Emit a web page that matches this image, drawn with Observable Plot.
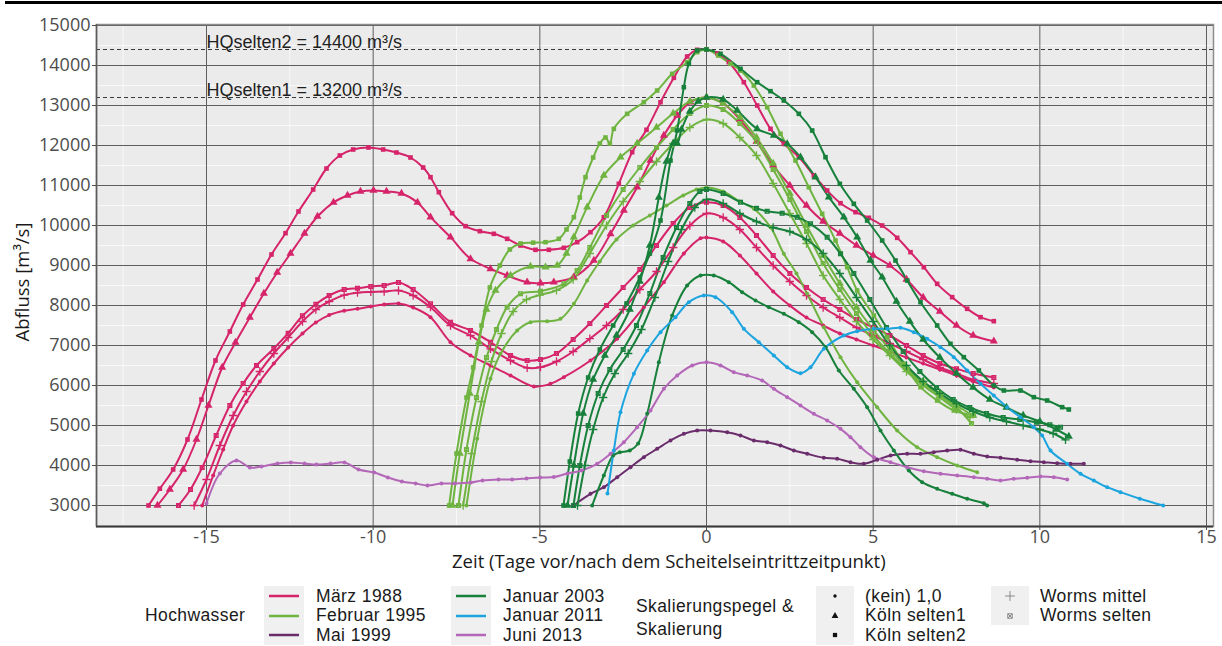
<!DOCTYPE html>
<html><head><meta charset="utf-8">
<script src="https://cdn.jsdelivr.net/npm/d3@7"></script>
<script src="https://cdn.jsdelivr.net/npm/@observablehq/plot@0.6"></script>
<style>
body{margin:0;background:#fff;font-family:"Open Sans",sans-serif;}
#wrap{position:relative;width:1222px;height:646px;overflow:hidden;}
#topbar{position:absolute;left:5px;top:1px;width:1217px;height:3px;background:#000;}
#chart{position:absolute;left:0;top:0;}
.t{position:absolute;white-space:nowrap;color:#1a1a1a;font-size:18.5px;line-height:20px;}
.lg{position:absolute;white-space:nowrap;color:#1a1a1a;font-family:"Liberation Sans",sans-serif;font-size:17.5px;line-height:19.5px;letter-spacing:0.4px;}
.box{position:absolute;background:#f0f0f0;}
</style></head><body>
<div id="wrap"><div id="chart"></div><div id="topbar"></div></div>
<script>
// ---------- data (t = Tage relativ zum Scheitel, v = Abfluss m³/s) ----------
const events = ["März 1988","Februar 1995","Mai 1999","Januar 2003","Januar 2011","Juni 2013"];
const eventColors = ["#D6246A","#6FB440","#6B2C6C","#17803B","#1CA4DF","#B467B8"];
const scalings = ["(kein) 1,0","Köln selten1","Köln selten2","Worms mittel","Worms selten"];
const scalingSymbols = ["circle","triangle","square","plus","square2"];
const xTicks = [-15,-10,-5,0,5,10,15];
const yTicks = [3000,4000,5000,6000,7000,8000,9000,10000,11000,12000,13000,14000,15000];
const xMinor = [-17.5,-12.5,-7.5,-2.5,2.5,7.5,12.5];
const yMinor = [2500,3500,4500,5500,6500,7500,8500,9500,10500,11500,12500,13500,14500];
const thresholdValues = [14400,13200];
const thresholdLabels = ["HQselten2 = 14400 m³/s","HQselten1 = 13200 m³/s"];

const m1988_koeln2 = [[-16.74,3000],[-16.4,3420],[-16,3900],[-15.57,4650],[-15.15,5650],[-14.73,6625],[-14.3,7350],[-13.9,8025],[-13.47,8650],[-13.05,9275],[-12.63,9808],[-12.24,10350],[-11.8,10900],[-11.4,11425],[-11,11750],[-10.6,11900],[-10.14,11950],[-9.7,11900],[-9.3,11825],[-8.88,11700],[-8.5,11450],[-8.28,11208],[-8.03,10833],[-7.63,10308],[-7.23,9983],[-6.8,9858],[-6.38,9792],[-5.98,9667],[-5.58,9500],[-5.13,9392],[-4.73,9392],[-4.28,9442],[-3.88,9583],[-3.48,9833],[-3.08,10208],[-2.63,11042],[-2.23,11833],[-1.8,12392],[-1.38,13083],[-0.98,13692],[-0.58,14225],[-0.28,14392],[0,14400],[0.33,14300],[0.67,14083],[1.12,13583],[1.52,13000],[1.92,12417],[2.32,12042],[2.77,11708],[3.22,11250],[3.62,10875],[4.02,10558],[4.47,10333],[4.87,10192],[5.27,10000],[5.72,9692],[6.12,9333],[6.52,8958],[6.92,8542],[7.37,8208],[7.82,7917],[8.22,7708],[8.62,7608]];
const m1988_koeln1 = [[-16.47,3000],[-16.1,3400],[-15.7,3900],[-15.3,4650],[-14.94,5500],[-14.53,6450],[-14.13,7075],[-13.7,7700],[-13.28,8300],[-12.88,8825],[-12.48,9300],[-12.06,9800],[-11.67,10225],[-11.19,10575],[-10.77,10750],[-10.38,10850],[-9.99,10875],[-9.6,10850],[-9.15,10800],[-8.67,10575],[-8.28,10208],[-7.68,9708],[-7.08,9167],[-6.48,8917],[-5.98,8750],[-5.38,8583],[-4.98,8558],[-4.58,8583],[-3.98,8708],[-3.38,9125],[-2.88,9792],[-2.48,10375],[-2.08,10958],[-1.68,11625],[-1.28,12250],[-0.88,12750],[-0.48,13083],[0,13200],[0.5,13050],[1,12650],[1.5,12100],[2,11500],[2.5,11000],[3,10500],[3.5,10100],[4,9800],[4.5,9500],[5,9250],[5.5,9000],[6,8650],[6.5,8200],[7,7850],[7.5,7500],[8,7250],[8.62,7108]];
const m1988_wormsS = [[-15.84,3000],[-15.48,3400],[-15.13,3950],[-14.71,4750],[-14.3,5500],[-13.9,6050],[-13.5,6500],[-12.98,6925],[-12.55,7308],[-12.12,7742],[-11.72,8033],[-11.32,8250],[-10.87,8400],[-10.47,8433],[-10.07,8475],[-9.67,8500],[-9.24,8575],[-8.8,8400],[-8.28,8042],[-7.68,7583],[-7.08,7375],[-6.48,7083],[-5.88,6750],[-5.38,6625],[-4.98,6650],[-4.5,6800],[-4,7150],[-3.5,7550],[-3,8000],[-2.5,8450],[-2,8900],[-1.5,9500],[-1,10050],[-0.5,10450],[0,10580],[0.5,10500],[1,10200],[1.5,9750],[2,9250],[2.5,8800],[3,8450],[3.5,8150],[4,7900],[4.5,7650],[5,7450],[5.5,7250],[6,7000],[6.5,6750],[7,6550],[7.5,6420],[8,6300],[8.62,6200]];
const m1988_wormsM = [[-15.37,3000],[-15,3650],[-14.6,4500],[-14.2,5250],[-13.8,5850],[-13.4,6350],[-12.98,6800],[-12.55,7200],[-12.12,7600],[-11.72,7900],[-11.32,8100],[-10.87,8260],[-10.47,8320],[-10.07,8340],[-9.67,8350],[-9.24,8375],[-8.8,8250],[-8.28,7958],[-7.68,7500],[-7.08,7250],[-6.48,6917],[-5.88,6625],[-5.38,6442],[-4.98,6458],[-4.5,6600],[-4,6850],[-3.5,7170],[-3,7500],[-2.5,7900],[-2,8400],[-1.5,8850],[-1,9450],[-0.5,10000],[0,10300],[0.5,10200],[1,9900],[1.5,9450],[2,9000],[2.5,8600],[3,8250],[3.5,7950],[4,7700],[4.5,7450],[5,7250],[5.5,7050],[6,6850],[6.5,6650],[7,6450],[7.5,6300],[8,6150],[8.62,6050]];
const m1988_kein = [[-15.13,3000],[-14.8,3750],[-14.5,4400],[-14.2,5000],[-13.8,5600],[-13.4,6100],[-12.98,6550],[-12.55,6950],[-12.12,7300],[-11.72,7575],[-11.32,7760],[-10.87,7867],[-10.47,7917],[-10.07,7975],[-9.67,8025],[-9.24,8050],[-8.8,7950],[-8.28,7708],[-7.68,7083],[-7.08,6750],[-6.48,6500],[-5.88,6250],[-5.18,5975],[-4.68,6042],[-4.28,6208],[-3.48,6625],[-2.68,7167],[-1.88,7958],[-1.28,8583],[-0.68,9300],[-0.18,9680],[0,9700],[0.5,9600],[1,9250],[1.5,8800],[2,8350],[2.5,8000],[3,7700],[3.5,7500],[4,7300],[4.5,7150],[5,7000],[5.5,6850],[6,6700],[6.5,6550],[7,6400],[7.5,6250],[8,6100],[8.62,5950]];

const f1995_koeln2 = [[-7.72,3000],[-7.5,4300],[-7.2,5700],[-7,6450],[-6.75,7500],[-6.5,8450],[-6.2,9000],[-5.9,9400],[-5.58,9550],[-5.2,9570],[-4.83,9583],[-4.43,9667],[-4.2,9900],[-3.98,10208],[-3.8,10700],[-3.63,11208],[-3.4,11700],[-3.2,12050],[-3.03,12200],[-2.9,12050],[-2.78,12417],[-2.38,12792],[-1.88,13083],[-1.48,13375],[-1.03,13792],[-0.58,14083],[-0.28,14333],[0,14400],[0.35,14250],[0.72,14042],[1.02,13875],[1.42,13500],[1.82,12958],[2.22,12292],[2.67,11625],[3.07,10958],[3.47,10292],[3.87,9625],[4.22,8958],[4.52,8375],[5.02,7750],[5.42,7208],[5.92,6542],[6.42,5958],[6.92,5625],[7.42,5375],[8.02,5250]];
const f1995_koeln1 = [[-7.62,3000],[-7.4,4300],[-7.1,5800],[-6.83,7083],[-6.6,7900],[-6.33,8375],[-5.88,8750],[-5.28,8975],[-4.83,8958],[-4.48,9000],[-4.2,9300],[-3.98,9708],[-3.58,10458],[-3.08,11250],[-2.58,11708],[-2.08,12050],[-1.5,12450],[-1,12800],[-0.5,13100],[0,13200],[0.5,13050],[1,12700],[1.5,12200],[2,11550],[2.5,10800],[3,10000],[3.5,9250],[4,8550],[4.5,7950],[5,7400],[5.5,6900],[6,6450],[6.5,6100],[7,5800],[7.5,5500],[8,5250]];
const f1995_wormsS = [[-7.44,3000],[-7.2,4400],[-6.9,5700],[-6.6,6700],[-6.3,7400],[-5.98,7958],[-5.58,8292],[-4.98,8358],[-4.28,8542],[-3.88,8875],[-3.5,9450],[-3,10250],[-2.5,10900],[-2,11450],[-1.5,11950],[-1,12400],[-0.5,12800],[0,13000],[0.5,12900],[1,12550],[1.5,12100],[2,11400],[2.5,10650],[3,9850],[3.5,9050],[4,8400],[4.5,7800],[5,7250],[5.5,6800],[6,6400],[6.5,6050],[7,5750],[7.5,5450],[7.95,5050]];
const f1995_wormsM = [[-7.3,3000],[-7.05,4300],[-6.75,5600],[-6.45,6600],[-6.15,7300],[-5.8,7850],[-5.4,8150],[-5,8260],[-4.5,8380],[-4,8650],[-3.5,9300],[-3,10000],[-2.5,10600],[-2,11100],[-1.5,11600],[-1,12050],[-0.5,12450],[0,12650],[0.5,12550],[1,12200],[1.5,11750],[2,11050],[2.5,10300],[3,9550],[3.5,8750],[4,8150],[4.5,7600],[5,7150],[5.5,6750],[6,6350],[6.5,6000],[7,5700],[7.5,5400],[7.9,5200]];
const f1995_kein = [[-7.2,3000],[-6.88,4667],[-6.48,6167],[-6.18,6792],[-5.68,7375],[-5.28,7583],[-4.78,7608],[-4.38,7667],[-3.98,8042],[-3.58,8625],[-3.2,9100],[-2.7,9650],[-2.2,10000],[-1.7,10250],[-1.2,10500],[-0.7,10750],[-0.3,10900],[0,10950],[0.5,10850],[1,10600],[1.42,10417],[1.92,9958],[2.32,9292],[2.7,8800],[3.02,8292],[3.52,7458],[4.02,6708],[4.52,6083],[5.12,5458],[5.72,4875],[6.32,4458],[6.92,4208],[7.52,4000],[8.12,3833]];

const m1999_kein = [[-3.99,3000],[-3.48,3292],[-3.08,3458],[-2.68,3708],[-2.28,3958],[-1.88,4208],[-1.48,4417],[-1.08,4625],[-0.68,4792],[-0.28,4875],[0.12,4875],[0.62,4833],[1.02,4750],[1.42,4625],[1.82,4583],[2.22,4500],[2.62,4375],[3.02,4292],[3.52,4192],[3.92,4167],[4.32,4083],[4.72,4042],[5.12,4142],[5.52,4250],[6.02,4292],[6.42,4292],[6.82,4333],[7.22,4375],[7.62,4392],[8.02,4292],[8.42,4225],[8.82,4192],[9.32,4142],[9.72,4108],[10.12,4083],[10.52,4058],[10.92,4042],[11.32,4042]];

const j2003_koeln2 = [[-4.29,3000],[-4.1,4100],[-3.85,5300],[-3.55,6200],[-3.2,6900],[-2.8,7500],[-2.4,8050],[-2,8700],[-1.7,9300],[-1.38,10125],[-1.08,11625],[-0.88,12375],[-0.68,13458],[-0.53,14042],[-0.28,14375],[0,14400],[0.42,14292],[1.02,13917],[1.52,13583],[1.92,13358],[2.32,13125],[2.77,12792],[3.17,12375],[3.57,11708],[4,11042],[4.42,10542],[4.82,10125],[5.27,9625],[5.67,9125],[6.02,8625],[6.42,8083],[6.92,7500],[7.32,7042],[7.72,6708],[8.17,6375],[8.62,6000],[8.92,5875],[9.42,5875],[9.82,5708],[10.22,5625],[10.67,5458],[10.87,5400]];
const j2003_koeln1 = [[-4.17,3000],[-3.98,4000],[-3.7,5300],[-3.4,6150],[-3.05,6750],[-2.7,7250],[-2.3,7900],[-2,8600],[-1.7,9500],[-1.43,10700],[-1.2,11600],[-1,12050],[-0.88,12050],[-0.75,12400],[-0.5,12850],[-0.25,13100],[0,13200],[0.5,13150],[0.92,12875],[1.52,12417],[2.02,12250],[2.42,12042],[2.82,11708],[3.27,11208],[3.67,10708],[4.12,10208],[4.52,9708],[4.92,9125],[5.27,8708],[5.7,8100],[6.1,7600],[6.5,7150],[7,6700],[7.5,6300],[8,5950],[8.5,5650],[9,5450],[9.5,5250],[10,5100],[10.5,4900],[10.87,4725]];
const j2003_wormsS = [[-3.99,3000],[-3.8,4000],[-3.55,5000],[-3.25,5800],[-2.9,6400],[-2.5,6900],[-2.1,7500],[-1.7,8300],[-1.3,9200],[-0.9,9950],[-0.5,10550],[-0.2,10850],[0,10900],[0.5,10800],[1.02,10583],[1.5,10430],[1.82,10358],[2.27,10308],[2.72,10208],[3.12,10042],[3.62,9708],[4.02,9292],[4.42,8800],[4.9,8150],[5.4,7450],[5.9,6850],[6.4,6350],[6.9,5950],[7.4,5650],[7.9,5450],[8.4,5300],[8.9,5200],[9.4,5150],[9.9,5080],[10.3,5020],[10.62,4958]];
const j2003_wormsM = [[-3.87,3000],[-3.65,4000],[-3.4,4900],[-3.1,5700],[-2.75,6300],[-2.35,6800],[-1.95,7400],[-1.55,8200],[-1.15,9100],[-0.75,9900],[-0.35,10450],[0,10650],[0.5,10550],[1,10300],[1.5,10100],[2,9950],[2.5,9850],[3,9650],[3.5,9300],[4,8800],[4.5,8200],[5,7600],[5.5,7000],[6,6500],[6.5,6100],[7,5800],[7.5,5550],[8,5350],[8.5,5200],[9,5100],[9.5,5000],[10,4900],[10.4,4800],[10.77,4642]];
const j2003_kein = [[-3.43,3000],[-3.08,3750],[-2.8,4250],[-2.6,4330],[-2.3,4375],[-2.05,4550],[-1.78,5292],[-1.43,6583],[-1.03,7750],[-0.58,8500],[-0.18,8750],[0.22,8750],[0.67,8583],[1.07,8333],[1.47,8125],[1.87,7958],[2.32,7792],[2.77,7583],[3.17,7333],[3.57,6958],[3.97,6375],[4.42,5917],[4.82,5458],[5.22,4875],[5.62,4375],[6.07,3875],[6.47,3583],[6.92,3417],[7.37,3292],[7.82,3167],[8.32,3058],[8.42,3000]];

const j2011_kein = [[-2.97,3300],[-2.78,4375],[-2.58,5333],[-2.18,6292],[-1.78,6875],[-1.38,7333],[-0.93,7708],[-0.53,8083],[-0.08,8250],[0.27,8208],[0.77,7833],[1.12,7417],[1.57,7083],[2.02,6750],[2.42,6458],[2.82,6308],[3.12,6458],[3.52,6917],[4.12,7250],[4.52,7358],[5.02,7417],[5.42,7417],[5.82,7442],[6.22,7333],[6.62,7167],[7.02,6958],[7.42,6708],[7.82,6375],[8.22,6042],[8.62,5750],[9.02,5458],[9.42,5208],[9.82,4958],[10.07,4750],[10.32,4375],[10.82,4042],[11.22,3792],[11.62,3625],[12.02,3458],[12.42,3333],[13,3170],[13.7,3000]];

const j2013_kein = [[-15,3050],[-14.6,3800],[-14.1,4125],[-13.7,3950],[-13.35,3975],[-12.87,4050],[-12.47,4075],[-12.06,4050],[-11.7,4025],[-11.28,4050],[-10.86,4075],[-10.44,3900],[-9.97,3825],[-9.56,3700],[-9.14,3600],[-8.73,3550],[-8.37,3500],[-7.95,3550],[-7.55,3550],[-7.07,3575],[-6.72,3625],[-6.24,3650],[-5.83,3650],[-5.4,3675],[-4.99,3700],[-4.58,3710],[-4.17,3800],[-3.75,3875],[-3.28,4042],[-2.88,4292],[-2.48,4583],[-2.08,4958],[-1.68,5375],[-1.28,5917],[-0.88,6250],[-0.43,6500],[0,6580],[0.42,6500],[0.82,6333],[1.22,6250],[1.67,6125],[2.02,5917],[2.42,5708],[2.82,5500],[3.22,5292],[3.62,5125],[4.02,4917],[4.32,4708],[4.62,4458],[5.02,4208],[5.52,4083],[6.02,3958],[6.52,3858],[7.02,3792],[7.52,3750],[8.02,3708],[8.42,3667],[8.82,3625],[9.22,3667],[9.62,3692],[10.02,3725],[10.42,3708],[10.82,3650]];

// series: [event index, scaling index, points]
const series = [
  [0,2,m1988_koeln2],[0,1,m1988_koeln1],[0,4,m1988_wormsS],[0,3,m1988_wormsM],[0,0,m1988_kein],
  [1,2,f1995_koeln2],[1,1,f1995_koeln1],[1,4,f1995_wormsS],[1,3,f1995_wormsM],[1,0,f1995_kein],
  [2,0,m1999_kein],
  [3,2,j2003_koeln2],[3,1,j2003_koeln1],[3,4,j2003_wormsS],[3,3,j2003_wormsM],[3,0,j2003_kein],
  [4,0,j2011_kein],
  [5,0,j2013_kein]
];

// ---------- chart ----------
const xDomain = [-18.3, 15.21];
const yDomain = [2475, 15025];
const thresholds = thresholdValues.map((v,i)=>({value:v,label:thresholdLabels[i]}));
const symSize = {circle:2, triangle:3, square:2.6, plus:2.8, square2:2.4};

const lineMarks = series.map(([e,s,pts]) => Plot.line(pts, {x:d=>d[0], y:d=>d[1], stroke:eventColors[e], strokeWidth:2, curve:"catmull-rom"}));
const dotMarks = series.flatMap(([e,s,pts]) => {
  const sym = scalingSymbols[s];
  const hollow = (sym==="plus"||sym==="square2");
  const m = [Plot.dot(pts, {x:d=>d[0], y:d=>d[1], symbol:sym, r:symSize[sym],
    fill: hollow ? "none" : eventColors[e], stroke: hollow ? eventColors[e] : "none", strokeWidth:1.3})];
  if (sym==="square2") m.push(Plot.dot(pts, {x:d=>d[0], y:d=>d[1], symbol:"times", r:1.8, stroke:eventColors[e], strokeWidth:1}));
  return m;
});

const chart = Plot.plot({
  width:1222, height:580,
  marginLeft:96, marginRight:9, marginTop:24, marginBottom:54,
  x:{domain:xDomain},
  y:{domain:yDomain},
  style:{fontFamily:"Open Sans", color:"#4d4d4d", background:"transparent", overflow:"visible"},
  marks:[
    Plot.frame({fill:"#ebebeb", stroke:null}),
    Plot.ruleX(xMinor, {stroke:"#f8f8f8", strokeWidth:1}),
    Plot.ruleY(yMinor, {stroke:"#f8f8f8", strokeWidth:1}),
    Plot.ruleX(xTicks, {stroke:"#5e5e5e", strokeWidth:1}),
    Plot.ruleY(yTicks, {stroke:"#5e5e5e", strokeWidth:1}),
    Plot.ruleY(thresholds, {y:"value", stroke:"#3a3a3a", strokeWidth:1.2, strokeDasharray:"4,3"}),
    Plot.text(thresholds, {x:xTicks[0], y:"value", text:"label", textAnchor:"start", lineAnchor:"bottom", dy:-2, fontSize:18, fontFamily:"Liberation Sans", fill:"#1f1f1f"}),
    ...lineMarks,
    ...dotMarks,
    Plot.frame({stroke:"#8c8c8c", strokeWidth:1.5}),
    Plot.ruleY([yDomain[0]], {stroke:"#3a3a3a", strokeWidth:2}),
    Plot.ruleX([xDomain[0]], {stroke:"#5a5a5a", strokeWidth:1.5}),
    Plot.axisX(xTicks, {tickSize:4, tickPadding:0, fontSize:18, tickFormat:d=>String(d), label:null}),
    Plot.axisY(yTicks, {tickSize:4, tickPadding:2, fontSize:18, tickFormat:d=>String(d), label:null})
  ]
});
document.getElementById("chart").appendChild(chart);

// ---------- titles & legend ----------
const wrap = document.getElementById("wrap");
function addText(html, left, top, cls, extra){
  const d=document.createElement("div"); d.className=cls||"t"; d.innerHTML=html;
  d.style.left=left+"px"; d.style.top=top+"px";
  if(extra) Object.assign(d.style, extra);
  wrap.appendChild(d); return d;
}
addText("Zeit (Tage vor/nach dem Scheitelseintrittzeitpunkt)", 452, 551, "t");
addText("Abfluss [m³/s]", -40, 272, "t", {transform:"rotate(-90deg)", width:"124px", textAlign:"center"});

function addBox(l,t,w,h){const b=document.createElement("div");b.className="box";
  Object.assign(b.style,{left:l+"px",top:t+"px",width:w+"px",height:h+"px"});wrap.appendChild(b);}
function addSvg(l,t,w,h,html){const d=document.createElement("div");
  Object.assign(d.style,{position:"absolute",left:l+"px",top:t+"px"});
  d.innerHTML=`<svg width="${w}" height="${h}" style="display:block">${html}</svg>`;wrap.appendChild(d);}

const rowY=[596,615.5,635];
addText("Hochwasser", 145, 606, "lg");
[[0,264],[3,451]].forEach(([start,bx])=>{
  addBox(bx,586,40,59);
  for(let i=0;i<3;i++){
    const e=start+i;
    addSvg(bx+4,rowY[i]-4,32,8,`<line x1="1" y1="4" x2="31" y2="4" stroke="${eventColors[e]}" stroke-width="2.5"/>`);
  }
  addText(events.slice(start,start+3).join("<br>"), bx+52, rowY[0]-9.5, "lg");
});
addText("Skalierungspegel &amp;<br>Skalierung", 636, 595, "lg", {lineHeight:"23px"});
const d3sym = {circle:d3.symbolCircle, triangle:d3.symbolTriangle, square:d3.symbolSquare, plus:d3.symbolPlus, square2:d3.symbolSquare2};
const legSize = {circle:9, triangle:20, square:18, plus:34, square2:26};
[[0,816],[3,991]].forEach(([start,bx])=>{
  const n = start===0?3:2;
  addBox(bx,586,38,n===3?59:39);
  for(let i=0;i<n;i++){
    const sym = scalingSymbols[start+i];
    const p = d3.symbol(d3sym[sym], legSize[sym])();
    const hollow = (sym==="plus"||sym==="square2");
    const col = hollow ? "#8a8a8a" : "#111";
    let extra = "";
    if (sym==="square2") extra = `<path transform="translate(7,7)" d="${d3.symbol(d3.symbolTimes,14)()}" fill="none" stroke="${col}" stroke-width="1"/>`;
    addSvg(bx+12,rowY[i]-7,14,14,`<path transform="translate(7,7)" d="${p}" fill="${hollow?'none':col}" stroke="${hollow?col:'none'}" stroke-width="1"/>${extra}`);
  }
  addText(scalings.slice(start,start+n).join("<br>"), bx+49, rowY[0]-9.5, "lg");
});
</script>
</body></html>
